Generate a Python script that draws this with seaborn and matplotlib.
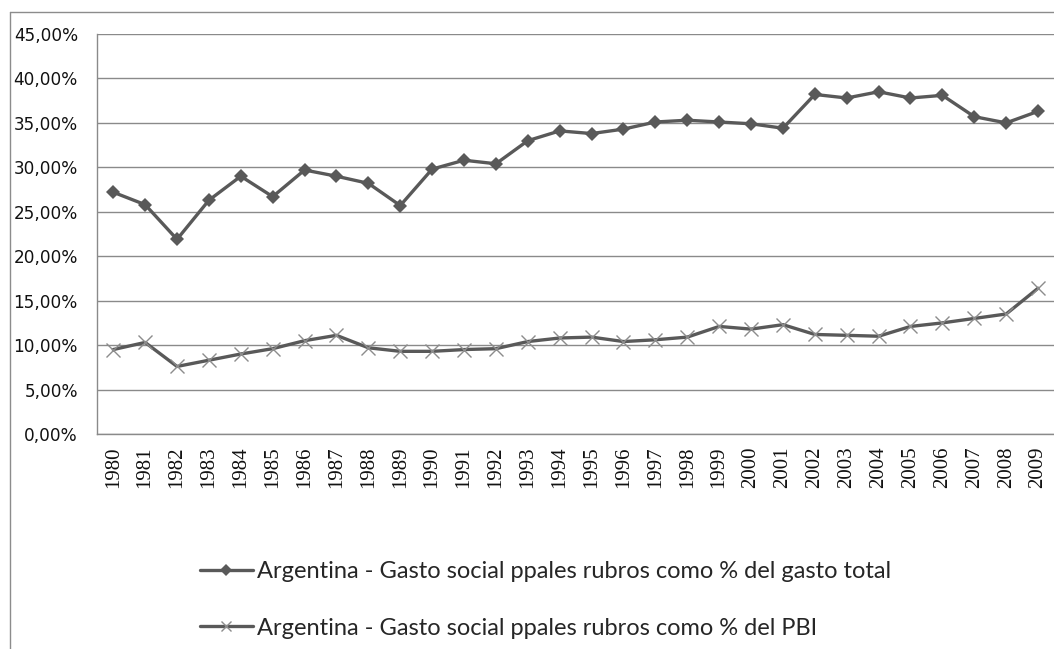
import matplotlib
matplotlib.use("Agg")
import matplotlib.pyplot as plt
from matplotlib.lines import Line2D
from matplotlib.ticker import FuncFormatter, MultipleLocator
import seaborn as sns
import pandas as pd

# Argentina: main social spending items, 1980-2009
years = [1980, 1981, 1982, 1983, 1984, 1985, 1986, 1987, 1988, 1989,
         1990, 1991, 1992, 1993, 1994, 1995, 1996, 1997, 1998, 1999,
         2000, 2001, 2002, 2003, 2004, 2005, 2006, 2007, 2008, 2009]
pct_gasto_total = [27.2, 25.8, 21.9, 26.3, 29.0, 26.7, 29.7, 29.0, 28.2, 25.7,
                   29.8, 30.8, 30.4, 33.0, 34.1, 33.8, 34.3, 35.1, 35.3, 35.1,
                   34.9, 34.4, 38.2, 37.8, 38.5, 37.8, 38.1, 35.7, 35.0, 36.3]
pct_pbi = [9.5, 10.3, 7.6, 8.3, 9.0, 9.6, 10.5, 11.1, 9.7, 9.3,
           9.3, 9.5, 9.6, 10.4, 10.8, 10.9, 10.4, 10.6, 10.9, 12.1,
           11.8, 12.3, 11.2, 11.1, 11.0, 12.1, 12.5, 13.0, 13.5, 16.4]
label_total = "Argentina - Gasto social ppales rubros como % del gasto total"
label_pbi = "Argentina - Gasto social ppales rubros como % del PBI"

df_total = pd.DataFrame({"year": years, "value": pct_gasto_total})
df_pbi = pd.DataFrame({"year": years, "value": pct_pbi})

sns.set_style("white")
plt.rcParams["font.family"] = ["DejaVu Sans"]

W, H = 1054, 649
fig = plt.figure(figsize=(W / 100, H / 100), dpi=100)
fig.patch.set_facecolor("white")

left, right, top, bottom = 97.3, 1054, 34, 434
ax = fig.add_axes([left / W, 1 - bottom / H, (right - left) / W, (bottom - top) / H])

line_col = "#595959"
grid_col = "#8a8a8a"

sns.lineplot(data=df_total, x="year", y="value", ax=ax, color=line_col,
             linewidth=2.4, marker="D", markersize=7.5, markeredgewidth=0,
             markerfacecolor=line_col, label=label_total, zorder=4)
sns.lineplot(data=df_pbi, x="year", y="value", ax=ax, color=line_col,
             linewidth=2.4, marker="x", markersize=10, markeredgewidth=1.0,
             markeredgecolor="#8c8c8c", label=label_pbi, zorder=4)

ax.set_xlim(years[0] - 0.5, years[-1] + 0.5)
ax.set_ylim(0, 45)
ax.yaxis.set_major_locator(MultipleLocator(5))
ax.yaxis.set_major_formatter(FuncFormatter(lambda v, p: f"{v:.2f}%".replace(".", ",")))
ax.set_xticks(years)
ax.set_xticklabels([str(y) for y in years], rotation=90,
                   fontfamily="Liberation Serif", fontsize=15)
ax.set_xlabel("")
ax.set_ylabel("")

ax.grid(axis="y", color=grid_col, linewidth=1.0)
ax.grid(axis="x", visible=False)
ax.set_axisbelow(True)
for s in ["top", "right"]:
    ax.spines[s].set_visible(False)
for s in ["left", "bottom"]:
    ax.spines[s].set_color(grid_col)
    ax.spines[s].set_linewidth(1.0)

ax.tick_params(axis="y", length=0, pad=14, labelsize=12.2, labelcolor="#111111")
ax.tick_params(axis="x", length=0, pad=9, labelcolor="#111111")

# legend below the plot area
handles, labels = ax.get_legend_handles_labels()
ax.legend_.remove()
legend_pt = 17
fs_px = legend_pt * 100 / 72
fig.legend(handles, labels, loc="center left",
           bbox_to_anchor=(200 / W, 1 - 600 / H),
           frameon=False, borderpad=0, borderaxespad=0,
           handlelength=52.5 / fs_px, handletextpad=4.6 / fs_px,
           labelspacing=(59 - fs_px) / fs_px, markerscale=0.75,
           prop={"family": "Lato", "size": legend_pt})

# outer chart frame
fig.add_artist(Line2D([9.7 / W, 1], [1 - 12.3 / H] * 2, color="#8c8c8c",
                      linewidth=1.0, transform=fig.transFigure))
fig.add_artist(Line2D([9.7 / W] * 2, [0, 1 - 12.3 / H], color="#8c8c8c",
                      linewidth=1.0, transform=fig.transFigure))

fig.savefig("out.png", dpi=100)
